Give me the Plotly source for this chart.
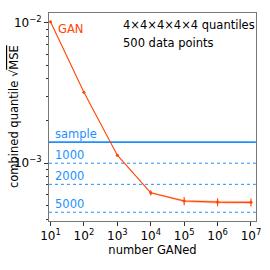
import math
import plotly.graph_objects as go

# data
gan_n = [1e1, 1e2, 1e3, 1e4, 1e5, 1e6, 1e7]
gan_mse = [1.02e-2, 3.2e-3, 1.14e-3, 6.15e-4, 5.38e-4, 5.28e-4, 5.26e-4]
gan_err = [0.0, 0.0, 0.0, 2.6e-5, 3.6e-5, 3.5e-5, 3.5e-5]
gan_band = [0.0, 0.0, 0.0, 8e-6, 1.2e-5, 1.2e-5, 1.2e-5]

ref_labels = ["sample", "1000", "2000", "5000"]
ref_values = [1.414e-3, 1.0e-3, 7.07e-4, 4.47e-4]

x_ticks = [1e1, 1e2, 1e3, 1e4, 1e5, 1e6, 1e7]
x_ticktext = ["10<sup>1</sup>", "10<sup>2</sup>", "10<sup>3</sup>", "10<sup>4</sup>",
              "10<sup>5</sup>", "10<sup>6</sup>", "10<sup>7</sup>"]
y_ticks = [1e-3, 1e-2]
y_ticktext = ["10<sup>−3</sup>", "10<sup>−2</sup>"]

annot_lines = ["4×4×4×4×4 quantiles", "500 data points"]
y_title = "combined quantile √<span style='text-decoration:overline'>MSE</span>"

RED = "#ff4500"
BLUE = "#1e90ff"
FONT = "DejaVu Sans"

fig = go.Figure()

# reference horizontal lines
for i, (lab, val) in enumerate(zip(ref_labels, ref_values)):
    fig.add_trace(go.Scatter(
        x=[9, 1.4e7], y=[val, val], mode="lines",
        line=dict(color=BLUE, width=1.6 if i == 0 else 1,
                  dash="solid" if i == 0 else "dot"),
        showlegend=False, hoverinfo="skip"))
    fig.add_annotation(x=0.02, xref="paper", y=math.log10(val), yref="y",
                       text=lab, showarrow=False, xanchor="left",
                       yanchor="bottom", yshift=-1,
                       font=dict(family=FONT, size=11.5, color=BLUE))

# GAN band
lo = [m - e for m, e in zip(gan_mse, gan_band)]
hi = [m + e for m, e in zip(gan_mse, gan_band)]
fig.add_trace(go.Scatter(x=gan_n, y=hi, mode="lines", line=dict(width=0),
                         showlegend=False, hoverinfo="skip"))
fig.add_trace(go.Scatter(x=gan_n, y=lo, mode="lines", line=dict(width=0),
                         fill="tonexty", fillcolor="rgba(255,69,0,0.3)",
                         showlegend=False, hoverinfo="skip"))

# GAN line
fig.add_trace(go.Scatter(
    x=gan_n, y=gan_mse, mode="lines+markers",
    line=dict(color=RED, width=1.1),
    marker=dict(color=RED, size=3),
    error_y=dict(type="data", array=gan_err, visible=True,
                 color=RED, thickness=1.1, width=0),
    showlegend=False))

fig.add_annotation(x=0.035, xref="paper", y=0.925, yref="paper",
                   text="GAN", showarrow=False, xanchor="left", yanchor="middle",
                   font=dict(family=FONT, size=11.5, color=RED))
fig.add_annotation(x=0.348, xref="paper", y=0.942, yref="paper",
                   text=annot_lines[0], showarrow=False, xanchor="left", yanchor="middle",
                   font=dict(family=FONT, size=11.5, color="black"))
fig.add_annotation(x=0.348, xref="paper", y=0.856, yref="paper",
                   text=annot_lines[1], showarrow=False, xanchor="left", yanchor="middle",
                   font=dict(family=FONT, size=11.5, color="black"))
# y-axis title
fig.add_annotation(x=-0.169, xref="paper", y=0.5, yref="paper",
                   text=y_title, showarrow=False, textangle=-90,
                   xanchor="center", yanchor="middle",
                   font=dict(family=FONT, size=11.5, color="black"))

fig.update_layout(
    width=270, height=270,
    margin=dict(l=49, r=14, t=13, b=49),
    plot_bgcolor="white", paper_bgcolor="white",
    font=dict(family=FONT, size=10, color="black"),
    showlegend=False,
    xaxis=dict(type="log", range=[0.955, 7.15], tickvals=x_ticks, ticktext=x_ticktext,
               tickangle=0, automargin=False,
               showgrid=False, zeroline=False,
               showline=True, linecolor="#777", linewidth=1, mirror=True,
               ticks="outside", ticklen=4, tickcolor="#333",
               tickfont=dict(size=12),
               title=dict(text="number GANed", standoff=2,
                          font=dict(size=11.5))),
    yaxis=dict(type="log", range=[-3.412, -1.929], tickvals=y_ticks, ticktext=y_ticktext,
               automargin=False,
               showgrid=False, zeroline=False,
               showline=True, linecolor="#777", linewidth=1, mirror=True,
               ticks="outside", ticklen=4, tickcolor="#333",
               tickfont=dict(size=12),
               minor=dict(ticks="outside", ticklen=2, tickcolor="#333", dtick="D1", showgrid=False)),
)

fig.write_html("out.html", config={"displayModeBar": False},
               post_script="document.body.style.margin='0';")
